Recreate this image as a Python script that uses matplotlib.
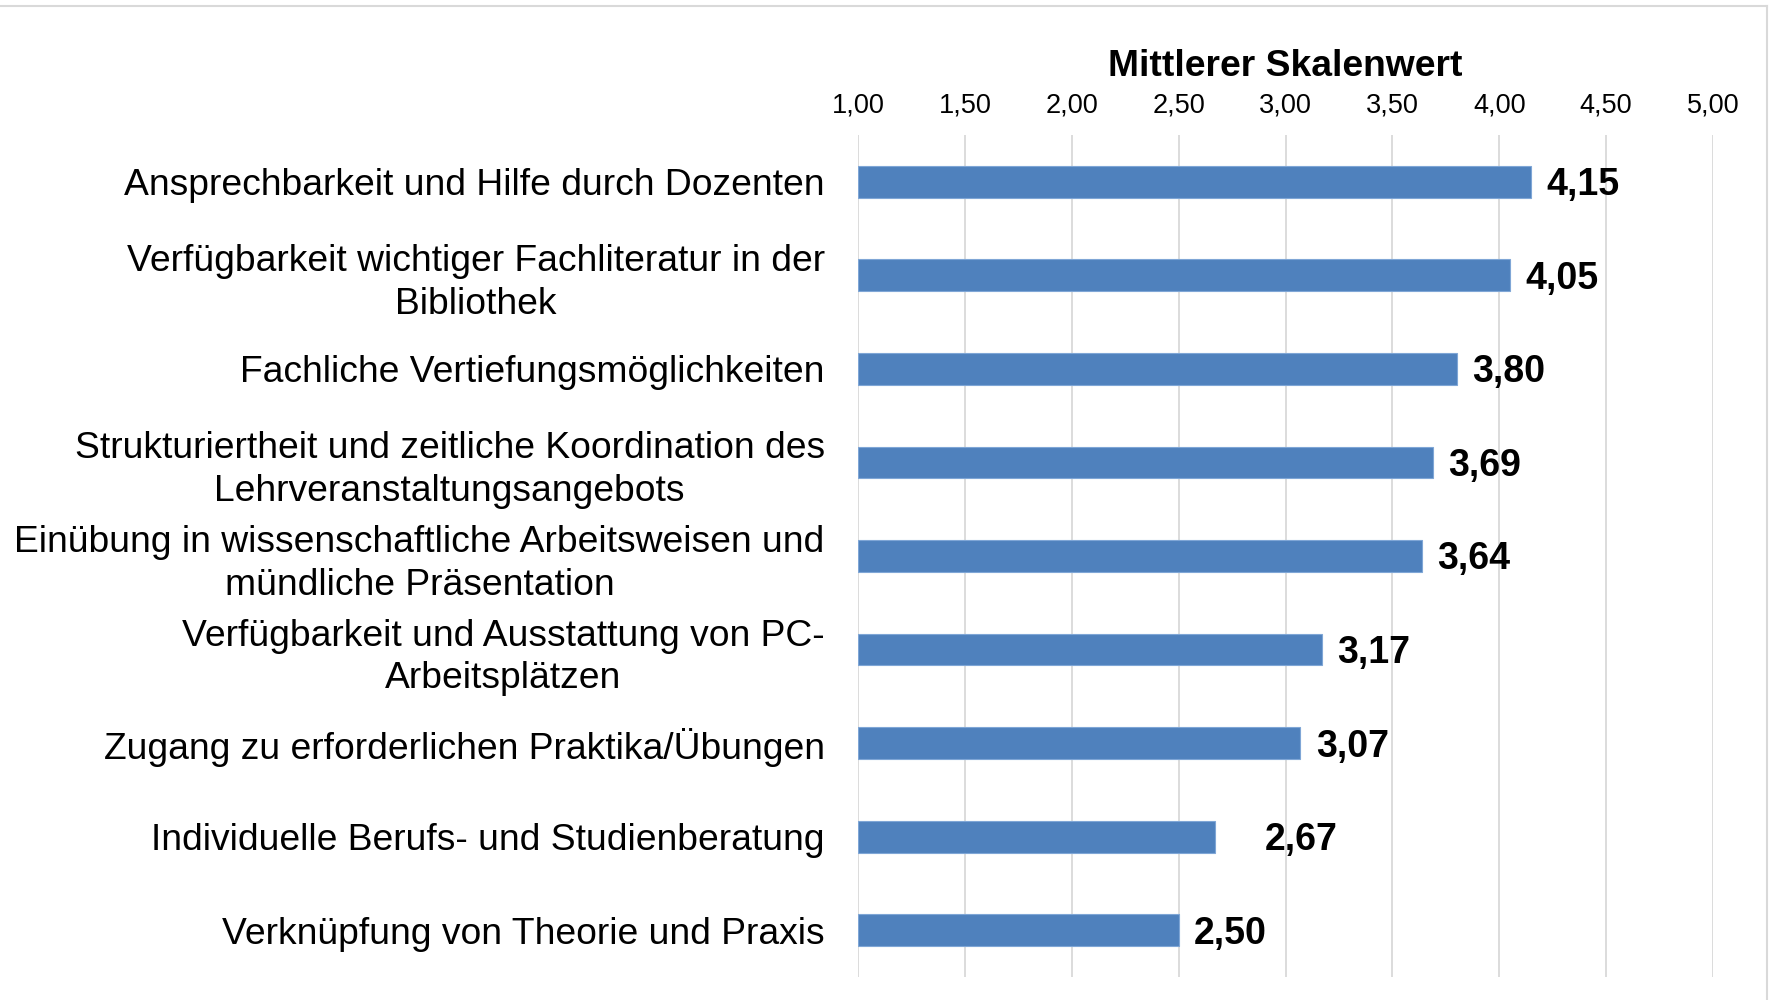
import matplotlib
matplotlib.use("Agg")
import matplotlib.pyplot as plt
from matplotlib.lines import Line2D

categories = [
    "Ansprechbarkeit und Hilfe durch Dozenten",
    "Verfügbarkeit wichtiger Fachliteratur in der\nBibliothek",
    "Fachliche Vertiefungsmöglichkeiten",
    "Strukturiertheit und zeitliche Koordination des\nLehrveranstaltungsangebots",
    "Einübung in wissenschaftliche Arbeitsweisen und\nmündliche Präsentation",
    "Verfügbarkeit und Ausstattung von PC-\nArbeitsplätzen",
    "Zugang zu erforderlichen Praktika/Übungen",
    "Individuelle Berufs- und Studienberatung",
    "Verknüpfung von Theorie und Praxis",
]
values = [4.15, 4.05, 3.80, 3.69, 3.64, 3.17, 3.07, 2.67, 2.50]
value_labels = ["4,15", "4,05", "3,80", "3,69", "3,64", "3,17", "3,07", "2,67", "2,50"]
xticks = [1.0, 1.5, 2.0, 2.5, 3.0, 3.5, 4.0, 4.5, 5.0]
xtick_labels = ["1,00", "1,50", "2,00", "2,50", "3,00", "3,50", "4,00", "4,50", "5,00"]
title = "Mittlerer Skalenwert"

# label offsets in points (one label was moved further right in the original)
label_pad = [11, 11, 11, 11, 11, 11, 11, 36, 11]

plt.rcParams["font.family"] = ["Liberation Sans", "DejaVu Sans"]

fig = plt.figure(figsize=(17.7, 10), dpi=100)
ax = fig.add_axes([858 / 1770, 1 - 977 / 1000, (1713 - 858) / 1770, (977 - 135) / 1000])

ypos = list(range(len(categories)))
ax.barh(ypos, [v - 1.0 for v in values], left=1.0, height=0.34,
        color="#4F81BD", edgecolor="#7FA6D6", linewidth=0.8, zorder=3)

for y, v, lab, pad in zip(ypos, values, value_labels, label_pad):
    ax.annotate(lab, xy=(v, y), xytext=(pad, -2.5), textcoords="offset points",
                ha="left", va="center", fontsize=27, fontweight="bold", color="black")

ax.set_ylim(len(categories) - 0.5, -0.5)
ax.set_xlim(1.0, 5.0)
ax.set_yticks(ypos)
ax.set_yticklabels(categories, fontsize=26.8, linespacing=1.28)
for lbl in ax.get_yticklabels():
    lbl.set_multialignment("center")
ax.tick_params(axis="y", length=0, pad=24)

ax.xaxis.tick_top()
ax.set_xticks(xticks)
ax.set_xticklabels(xtick_labels, fontsize=19.5)
ax.tick_params(axis="x", length=0, pad=12)
ax.grid(axis="x", color="#D9D9D9", linewidth=1.3, zorder=0)
ax.set_axisbelow(True)
for s in ax.spines.values():
    s.set_visible(False)

fig.text(0.5 * (858 + 1713) / 1770, 1 - 66 / 1000, title, ha="center", va="center",
         fontsize=26.8, fontweight="bold")

# outer frame lines (top and right)
fig.add_artist(Line2D([0, 1767 / 1770], [1 - 6 / 1000, 1 - 6 / 1000], color="#D9D9D9",
                      linewidth=1.5, transform=fig.transFigure))
fig.add_artist(Line2D([1767 / 1770, 1767 / 1770], [0, 1 - 6 / 1000], color="#D9D9D9",
                      linewidth=1.5, transform=fig.transFigure))

fig.savefig("out.png", dpi=100, facecolor="white")
